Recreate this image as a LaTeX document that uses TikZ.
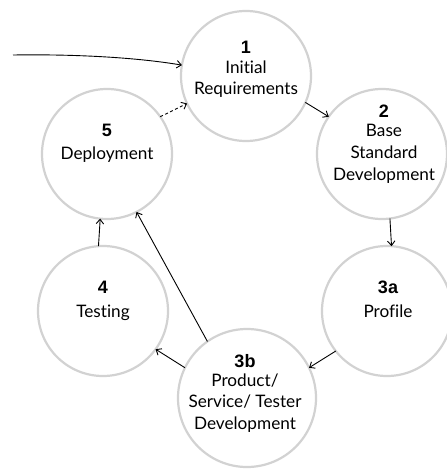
\documentclass[tikz,border=0pt]{standalone}
\usepackage{fontspec}
\setmainfont{Lato}[Ligatures={NoCommon,NoRare}]
\newfontfamily\numfont{Liberation Sans}
\usetikzlibrary{arrows.meta}
\definecolor{ringgray}{RGB}{210,210,210}
\tikzset{
  ring/.style={circle, draw=ringgray, line width=2.2pt, minimum size=130pt, inner sep=0pt, outer sep=0pt},
  bigring/.style={ring, minimum size=138pt},
  lbl/.style={anchor=base, inner sep=0pt, font=\fontsize{17.2}{19}\selectfont},
  num/.style={anchor=base, inner sep=0pt, font=\numfont\bfseries\fontsize{18}{20}\selectfont},
  conn/.style={line width=0.9pt, -{Straight Barb[length=4.5pt,width=7.5pt]}},
}
\begin{document}
\begin{tikzpicture}[x=1pt,y=-1pt]
\useasboundingbox (0,0) rectangle (447,469);
\node[ring] (n1) at (246,76) {};
\node[ring] (n2) at (382,154) {};
\node[ring] (n3a) at (387,311) {};
\node[bigring] (n3b) at (247,398) {};
\node[ring] (n4) at (103,311) {};
\node[ring] (n5) at (107,154) {};
% labels
\node[num] (k1) at (246,53) {1};
\node[lbl] (t1a) at (246,73) {Initial};
\node[lbl] (t1b) at (246,94) {Requirements};
\node[num] (k2) at (384,117) {2};
\node[lbl] (t2a) at (384,136) {Base};
\node[lbl] (t2b) at (384,158) {Standard};
\node[lbl] (t2c) at (384,180) {Development};
\node[num] (k3a) at (388,293) {3a};
\node[lbl] (t3a) at (388,317) {Profile};
\node[num] (k3b) at (245,367) {3b};
\node[lbl] (t3ba) at (245,386) {Product/};
\node[lbl] (t3bb) at (245,407) {Service/ Tester};
\node[lbl] (t3bc) at (245,429) {Development};
\node[num] (k4) at (103,293) {4};
\node[lbl] (t4) at (103,317) {Testing};
\node[num] (k5) at (107,136) {5};
\node[lbl] (t5) at (107,159) {Deployment};
% connectors
\coordinate (in) at (13,55);
\draw[conn] (in) .. controls (80,54) and (140,58) .. (n1);
\draw[conn] (n1.-24) -- (n2.145);
\draw[conn] (n2.-83) -- (n3a.86);
\draw[conn] (n3a.-142) -- (n3b.26);
\draw[conn] (n3b.154) -- (n4.-36);
\draw[conn] (n4.94) -- (n5.-96);
\draw[conn] (n3b.125) -- (n5.-63);
\draw[conn, dash pattern=on 3pt off 2.5pt] (n5.35) -- (n1.-155);
\end{tikzpicture}
\end{document}
